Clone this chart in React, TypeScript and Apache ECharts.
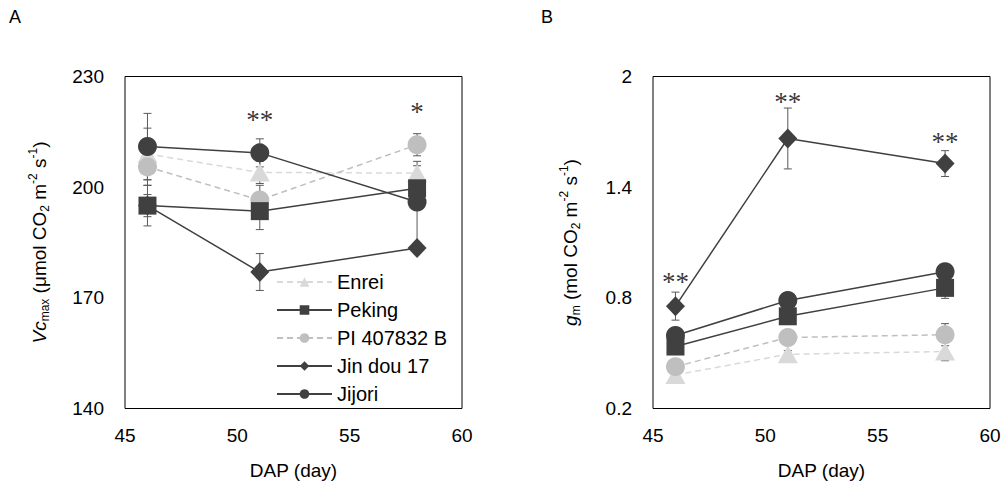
import React, { useEffect, useRef } from 'react';
import * as echarts from 'echarts';

const days = [46, 51, 58];
const names = ['Enrei', 'Peking', 'PI 407832 B', 'Jin dou 17', 'Jijori'];
const xTicks = [45, 50, 55, 60];
const vcTicks = [140, 170, 200, 230];
const gmTicks = [0.2, 0.8, 1.4, 2];

// Panel A: Vcmax
const vcEnrei = [209, 204, 203.8];
const vcPeking = [195, 193.5, 199.7];
const vcPI = [205.5, 196.5, 211.5];
const vcJindou = [195, 177, 183.5];
const vcJijori = [211, 209.3, 196];
const vcEnreiErr = [7, 3, 2];
const vcPekingErr = [5.5, 5, 4];
const vcPIErr = [5, 4, 3];
const vcJindouErr = [3, 5, 1.5];
const vcJijoriErr = [9, 3.8, 11];

// Panel B: gm
const gmEnrei = [0.382, 0.494, 0.509];
const gmPeking = [0.536, 0.7, 0.854];
const gmPI = [0.427, 0.585, 0.6];
const gmJindou = [0.755, 1.664, 1.528];
const gmJijori = [0.596, 0.786, 0.942];
const gmEnreiErr = [0.02, 0.02, 0.05];
const gmPekingErr = [0.02, 0.02, 0.057];
const gmPIErr = [0.02, 0.02, 0.06];
const gmJindouErr = [0.076, 0.165, 0.07];
const gmJijoriErr = [0.02, 0.02, 0.02];

// significance marks
const sigA = [
  { day: 51, value: 218.2, text: '**' },
  { day: 58, value: 220.5, text: '*' },
];
const sigB = [
  { day: 46, value: 0.885, text: '**' },
  { day: 51, value: 1.864, text: '**' },
  { day: 58, value: 1.645, text: '**' },
];

const DARK = '#404040';
const styles = [
  { color: '#d9d9d9', symbol: 'triangle', size: [20, 18], dash: [6, 4], z: 2 },
  { color: DARK, symbol: 'rect', size: 18, dash: 'solid', z: 4 },
  { color: '#bfbfbf', symbol: 'circle', size: 19, dash: [6, 4], z: 3 },
  { color: DARK, symbol: 'diamond', size: [19, 20], dash: 'solid', z: 5 },
  { color: DARK, symbol: 'circle', size: 19, dash: 'solid', z: 6 },
];

const FONT = 'Liberation Sans, Arial, sans-serif';

function lineSeries(idx: number, vals: number[], axis: number) {
  const s = styles[idx];
  return {
    type: 'line',
    name: names[idx],
    xAxisIndex: axis,
    yAxisIndex: axis,
    data: days.map((d, i) => [d, vals[i]]),
    symbol: s.symbol,
    symbolSize: s.size,
    showSymbol: true,
    z: s.z,
    itemStyle: { color: s.color, opacity: 1 },
    lineStyle: { color: s.color, width: 1.5, type: s.dash },
    emphasis: { disabled: true },
  };
}

function errSeries(vals: number[], errs: number[], axis: number) {
  return {
    type: 'custom',
    xAxisIndex: axis,
    yAxisIndex: axis,
    z: 1,
    encode: { x: 0, y: 1 },
    data: days.map((d, i) => [d, vals[i], errs[i]]),
    renderItem: (params: any, api: any) => {
      const x = api.value(0);
      const y = api.value(1);
      const e = api.value(2);
      const top = api.coord([x, y + e]);
      const bot = api.coord([x, y - e]);
      const hw = 4;
      const st = { stroke: '#595959', lineWidth: 1 };
      return {
        type: 'group',
        children: [
          { type: 'line', shape: { x1: top[0], y1: top[1], x2: bot[0], y2: bot[1] }, style: st },
          { type: 'line', shape: { x1: top[0] - hw, y1: top[1], x2: top[0] + hw, y2: top[1] }, style: st },
          { type: 'line', shape: { x1: bot[0] - hw, y1: bot[1], x2: bot[0] + hw, y2: bot[1] }, style: st },
        ],
      };
    },
  };
}

function sigSeries(list: { day: number; value: number; text: string }[], axis: number) {
  return {
    type: 'scatter',
    xAxisIndex: axis,
    yAxisIndex: axis,
    symbolSize: 1,
    itemStyle: { color: 'rgba(0,0,0,0)' },
    z: 10,
    data: list.map((s) => ({ value: [s.day, s.value], label: { formatter: '{a|' + s.text + '}' } })),
    label: {
      show: true,
      position: 'inside',
      rich: {
        a: {
          color: '#000',
          fontSize: 27,
          fontFamily: 'Liberation Serif, Times New Roman, serif',
        },
      },
    },
    emphasis: { disabled: true },
  };
}

const subRich = {
  n: { fontSize: 19, fontFamily: FONT, color: '#000', lineHeight: 24 },
  i: { fontSize: 19, fontFamily: FONT, color: '#000', fontStyle: 'italic', lineHeight: 24 },
  sub: { fontSize: 12, fontFamily: FONT, color: '#000', lineHeight: 12, verticalAlign: 'bottom' },
  sup: { fontSize: 12, fontFamily: FONT, color: '#000', lineHeight: 12, verticalAlign: 'top' },
};

function xAxis(grid: number) {
  return {
    type: 'value',
    gridIndex: grid,
    min: xTicks[0],
    max: xTicks[xTicks.length - 1],
    interval: xTicks[1] - xTicks[0],
    name: 'DAP (day)',
    nameLocation: 'middle',
    nameGap: 52,
    nameTextStyle: { fontSize: 19, fontFamily: FONT, color: '#000' },
    axisLine: { show: false },
    axisTick: { show: false },
    splitLine: { show: false },
    axisLabel: { fontSize: 19, fontFamily: FONT, color: '#000', margin: 17 },
  };
}

function yAxis(grid: number, ticks: number[], name: string, gap: number) {
  return {
    type: 'value',
    gridIndex: grid,
    min: ticks[0],
    max: ticks[ticks.length - 1],
    interval: +(ticks[1] - ticks[0]).toFixed(6),
    name,
    nameLocation: 'middle',
    nameRotate: 90,
    nameGap: gap,
    nameTextStyle: { rich: subRich },
    axisLine: { show: false },
    axisTick: { show: false },
    splitLine: { show: false },
    axisLabel: {
      fontSize: 19,
      fontFamily: FONT,
      color: '#000',
      margin: 21,
      formatter: (v: number) => String(+v.toFixed(2)),
    },
  };
}

export default function App() {
  const ref = useRef<HTMLDivElement>(null);
  useEffect(() => {
    if (!ref.current) return;
    const chart = echarts.init(ref.current, undefined, { renderer: 'svg' });
    const vcVals = [vcEnrei, vcPeking, vcPI, vcJindou, vcJijori];
    const vcErrs = [vcEnreiErr, vcPekingErr, vcPIErr, vcJindouErr, vcJijoriErr];
    const gmVals = [gmEnrei, gmPeking, gmPI, gmJindou, gmJijori];
    const gmErrs = [gmEnreiErr, gmPekingErr, gmPIErr, gmJindouErr, gmJijoriErr];
    const series: any[] = [];
    names.forEach((_, i) => {
      series.push(errSeries(vcVals[i], vcErrs[i], 0));
      series.push(errSeries(gmVals[i], gmErrs[i], 1));
    });
    names.forEach((_, i) => {
      series.push(lineSeries(i, vcVals[i], 0));
      series.push(lineSeries(i, gmVals[i], 1));
    });
    series.push(sigSeries(sigA, 0));
    series.push(sigSeries(sigB, 1));

    chart.setOption({
      animation: false,
      backgroundColor: '#fff',
      textStyle: { fontFamily: FONT },
      grid: [
        { left: 125, top: 76.5, width: 337, height: 332, show: true, borderColor: '#000', borderWidth: 1, backgroundColor: 'transparent' },
        { left: 653, top: 76.5, width: 337, height: 332, show: true, borderColor: '#000', borderWidth: 1, backgroundColor: 'transparent' },
      ],
      xAxis: [xAxis(0), xAxis(1)],
      yAxis: [
        yAxis(0, vcTicks, '{i|Vc}{sub|max}{n| (μmol CO}{sub|2}{n| m}{sup|-2}{n| s}{sup|-1}{n|)}', 74),
        yAxis(1, gmTicks, '{i|g}{sub|m}{n| (mol CO}{sub|2}{n| m}{sup|-2}{n| s}{sup|-1}{n|)}', 71),
      ],
      legend: {
        data: names,
        orient: 'vertical',
        left: 271,
        top: 267,
        itemWidth: 55,
        itemHeight: 12,
        itemGap: 8,
        textStyle: { fontSize: 20, fontFamily: FONT, color: '#000' },
        selectedMode: false,
      },
      graphic: [
        { type: 'text', left: 9, top: 8, style: { text: 'A', fontSize: 18, fontFamily: FONT, fill: '#000' } },
        { type: 'text', left: 541, top: 8, style: { text: 'B', fontSize: 18, fontFamily: FONT, fill: '#000' } },
      ],
      series,
    });
    return () => chart.dispose();
  }, []);
  return <div ref={ref} style={{ position: 'absolute', left: 0, top: 0, width: 1004, height: 491 }} />;
}
